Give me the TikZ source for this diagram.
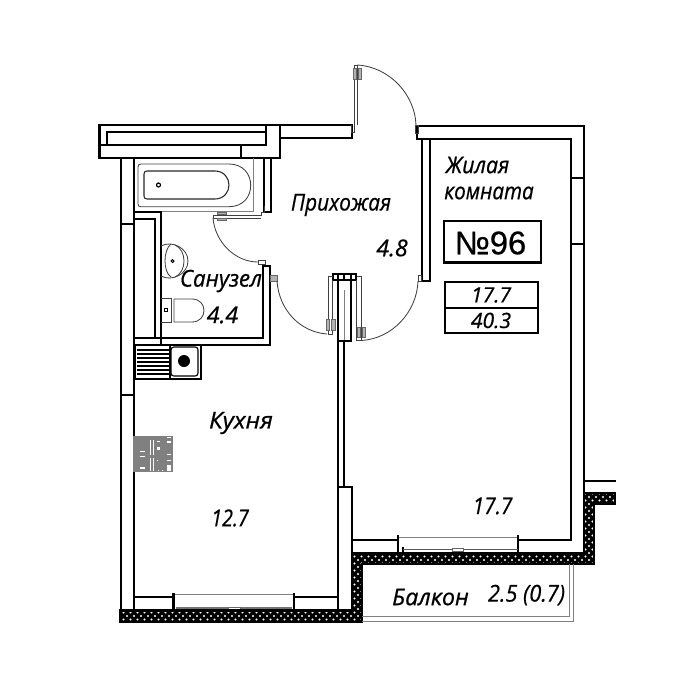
\documentclass[tikz,border=0pt]{standalone}
\usepackage{fontspec}
\setmainfont{Open Sans}
\newfontfamily\labfont{Open Sans Italic}[FakeBold=0.7]
\newfontfamily\numfont{Liberation Sans}[FakeBold=0.6]
\tikzset{
  wall/.style={line width=6.2pt,line cap=rect,line join=miter},
  mid/.style={line width=4.6pt,line cap=rect},
  thin/.style={line width=2.4pt,black!75},
  pale/.style={line width=2.8pt,black!50},
  hinge/.style={line width=1.6pt,fill=black!30,draw=black!60},
  lab/.style={font=\labfont\fontsize{66pt}{66pt}\selectfont,inner sep=0pt,anchor=center},
  small/.style={lab,font=\labfont\fontsize{60pt}{60pt}\selectfont}
}
\newcommand{\nar}[2]{\scalebox{#1}[1]{#2}}
\begin{document}
\begin{tikzpicture}[x=0.1cm,y=-0.1cm]
\useasboundingbox (0,0) rectangle (700,700);
% top-left structure
\draw[wall] (280,125)--(99.5,125)--(99.5,158)--(280,158)--(280,125);
\draw[wall] (266,125)--(266,145)--(99.5,145);
\draw[wall] (107,145)--(107,132)--(266,132);
\draw[wall] (240.7,145)--(240.7,158);
\draw[wall] (280,125)--(351.7,125)--(351.7,138)--(280,138);
% left outer wall
\draw[wall] (121,158)--(121,610);
\draw[wall] (134,158)--(134,610);
\draw[wall] (121,224)--(134,224);
\draw[wall] (121,395)--(134,395);
% bathroom
\draw[wall] (264,158)--(264,212)--(271,212)--(271,158);
\draw[pale] (253,158)--(253,211)--(134,211);
\draw[thin] (141,164)--(229,164) .. controls (243,164) and (250.7,174) .. (250.7,185.3) .. controls (250.7,197) and (243,206.7) .. (229,206.7) -- (141,206.7) .. controls (139,206.7) and (138,206) .. (138,204) -- (138,167) .. controls (138,165) and (139,164) .. (141,164) -- cycle;
\draw[line width=3pt,black!85] (147,171)--(215,171) .. controls (224,171) and (229,178) .. (229,185) .. controls (229,192) and (224,199) .. (215,199) -- (147,199) .. controls (145,199) and (144,198) .. (144,196) -- (144,174) .. controls (144,172) and (145,171) .. (147,171) -- cycle;
\draw[line width=3.4pt] (158.5,185) circle (2);
% inner bathroom walls
\draw[wall] (134,212)--(160.7,212)--(160.7,345);
\draw[wall] (134,219)--(155,219)--(155,338);
\draw[wall] (134,338)--(263.4,338)--(263.4,265.7)--(270,265.7)--(270,345)--(134,345);
% washbasin
\draw[thin] (161,246) .. controls (172,240) and (188,248) .. (188,261) .. controls (188,274) and (172,282) .. (161,276);
\draw[thin] (171,244) .. controls (163,250) and (163,272) .. (171,277);
\draw[thin] (175,245) .. controls (187,250) and (187,272) .. (175,277);
\draw[line width=3pt] (172.5,261) circle (1.5);
% toilet
\draw[thin] (161,298)--(171,298)--(171,322)--(161,322);
\draw[thin] (174,299)--(192,299) .. controls (208,299) and (208,322) .. (192,322) --(174,322)--(174,299);
\draw[line width=1.6pt] (164.5,308.5) rectangle (167,311);
% kitchen sink
\draw[mid] (135,345.5) rectangle (201,378.7);
\draw[mid] (170,345.5)--(170,378.7);
\foreach \yy in {350,354,358,362,366,370,374}{\draw[line width=3pt] (137,\yy)--(169,\yy);}
\draw[line width=3.2pt,rounded corners=8pt] (171,347) rectangle (198,376);
\fill (184,361) circle (6);
% centre wall
\draw[wall] (338,610)--(338,341)--(351,341)--(351,280);
\draw[wall] (338,341)--(338,280);
\draw[wall] (344,341)--(344,486.7);
\draw[wall] (338,486.7)--(351.7,486.7)--(351.7,553);
\draw[wall] (333,274)--(356,274);
\draw[wall] (333,280)--(356,280);
\draw[wall] (333,274)--(333,280);
\draw[wall] (356,274)--(356,280);
\foreach \xx in {338,344,351}{\draw[mid] (\xx,274)--(\xx,280);}
\draw[pale] (344.5,290)--(344.5,340);
% hall partition and right room
\draw[wall] (417,138.6)--(417,125.7)--(584.3,125.7)--(584.3,493);
\draw[wall] (417,138.6)--(570.7,138.6)--(570.7,540)--(518,540);
\draw[wall] (421.7,138.6)--(421.7,280.7)--(430,280.7)--(430,138.6);
\draw[wall] (570.7,177.7)--(584.3,177.7);
\draw[wall] (570.7,244)--(584.3,244);
\draw[wall] (584.3,480.7)--(615,480.7);
% room windows
\draw[wall] (351.7,540)--(398,540);
\draw[pale] (398,537)--(518,537);
\draw[wall] (398,536)--(398,553);
\draw[wall] (518,536)--(518,553);
\draw[mid] (403,548)--(403,553);
\draw[line width=3.4pt,black!65] (403,549.5)--(518,549.5);
\fill[white,draw=black!60,line width=1.5pt] (452.7,548)rectangle(463.7,551);
% kitchen window
\draw[wall] (134,597)--(173.5,597);
\draw[wall] (294,597)--(338,597);
\draw[pale] (173.5,594)--(294,594);
\draw[wall] (173.5,594)--(173.5,610);
\draw[wall] (294,594)--(294,610);
\draw[line width=3.4pt,black!55] (176,608)--(292,608);
\fill[white,draw=black!60,line width=1.5pt] (228,607)rectangle(240,609.5);
% hatched masonry
\def\masonry{(120,610.5)--(352,610.5)--(352,553)--(584.3,553)--(584.3,493)--(615,493)--(615,504)--(594,504)--(594,564)--(361.7,564)--(361.7,622)--(120,622)--cycle}
\fill[black] \masonry;
\begin{scope}
\clip \masonry;
\foreach \r in {0,...,18}{
  \pgfmathsetmacro{\yy}{490+7*\r}
  \foreach \c in {0,...,71}{
    \pgfmathsetmacro{\xx}{120+7*\c}
    \fill[white] (\xx,\yy) circle (1.15);
    \fill[white] (\xx+3.5,\yy+3.5) circle (1.15);
  }
}
\end{scope}
\draw[wall] \masonry;
% balcony rail
\draw[pale] (361.7,621)--(573.3,621)--(573.3,564);
\draw[pale] (361.7,616)--(569,616)--(569,564);
% doors
\draw[thin] (351.7,125)--(351.7,132)--(354,132)--(354,65)--(357.3,65)--(357.3,125);
\draw[hinge] (353,68) rectangle (356,79);
\draw[hinge] (358,68) rectangle (361,79);
\draw[thin] (357.3,65) .. controls (390,67) and (415,95) .. (416,125);
\draw[thin] (415,125) rectangle (418,133);
\draw[thin] (264,205.5)--(264,212)--(261,212)--(261,215)--(213,215)--(213,218)--(261,218);
\draw[hinge] (217,212) rectangle (226,214.5);
\draw[hinge] (217,218) rectangle (226,220.5);
\draw[thin] (213,218) .. controls (215,242) and (235,262) .. (258,262);
\draw[thin] (258,260) rectangle (265,264);
\draw[hinge] (270.5,275) rectangle (277,281);
\draw[thin] (277,281) .. controls (279,310) and (300,332) .. (327,334);
\draw[thin] (333,276)--(328,276)--(328,334)--(332,334)--(332,280);
\draw[hinge] (326,319) rectangle (329,330);
\draw[hinge] (331,319) rectangle (335,330);
\draw[thin] (356.7,276)--(361.7,276)--(361.7,340)--(356.7,340)--(356.7,280);
\draw[hinge] (357,327) rectangle (360,337);
\draw[hinge] (362,327) rectangle (365,337);
\draw[thin] (361,340.5) .. controls (392,339) and (417,312) .. (418,281);
\draw[thin] (418,275) rectangle (421,281);
% panel
\fill[black!50] (133,436) rectangle (173,472);
\foreach \a/\b/\c/\d in {150/440/151/455,153/440/154/455,150/458/151/471,153/458/154/471,
 157/441/160/441.7,157/447/160/449.5,167/437/171/437.7,167/441/171/442.5,
 167/454/171/454.7,167/460/171/460.7,167/465/171/471,140/451/145/452,140/456/145/456.7,140/467/145/468.5,
 158/470/159/471,162/470/163/471,157/460/158/461}{\fill[white] (\a,\b) rectangle (\c,\d);}
% number box
\draw[line width=7pt] (444,221) rectangle (541,262.7);
\node[font=\numfont\fontsize{93pt}{93pt}\selectfont,inner sep=0pt] (num) at (490.5,243) {№96};
\draw[mid] (445,282.3) rectangle (537.7,333.3);
\draw[mid] (445,307.7)--(537.7,307.7);
% labels
\node[small] (tot1) at (491,295) {17.7};
\node[small] (tot2) at (491,320.5) {40.3};
\node[lab] (hall) at (341,205) {\nar{.9}{Прихожая}};
\node[lab] (hallA) at (392,248) {4.8};
\node[lab] (liv1) at (477.5,165) {\nar{.92}{Жилая}};
\node[lab] (liv2) at (489,193) {\nar{.89}{комната}};
\node[lab] (bath) at (221,281) {\nar{.96}{Санузел}};
\node[lab] (bathA) at (222.5,315) {4.4};
\node[lab] (kit) at (241,423) {\nar{1.05}{Кухня}};
\node[lab] (kitA) at (230,518) {\nar{.85}{12.7}};
\node[lab] (livA) at (492.5,506) {\nar{.9}{17.7}};
\node[lab] (balc) at (430.5,597) {Балкон};
\node[lab] (balcA) at (526.5,595) {\nar{.94}{2.5 (0.7)}};
\end{tikzpicture}
\end{document}
